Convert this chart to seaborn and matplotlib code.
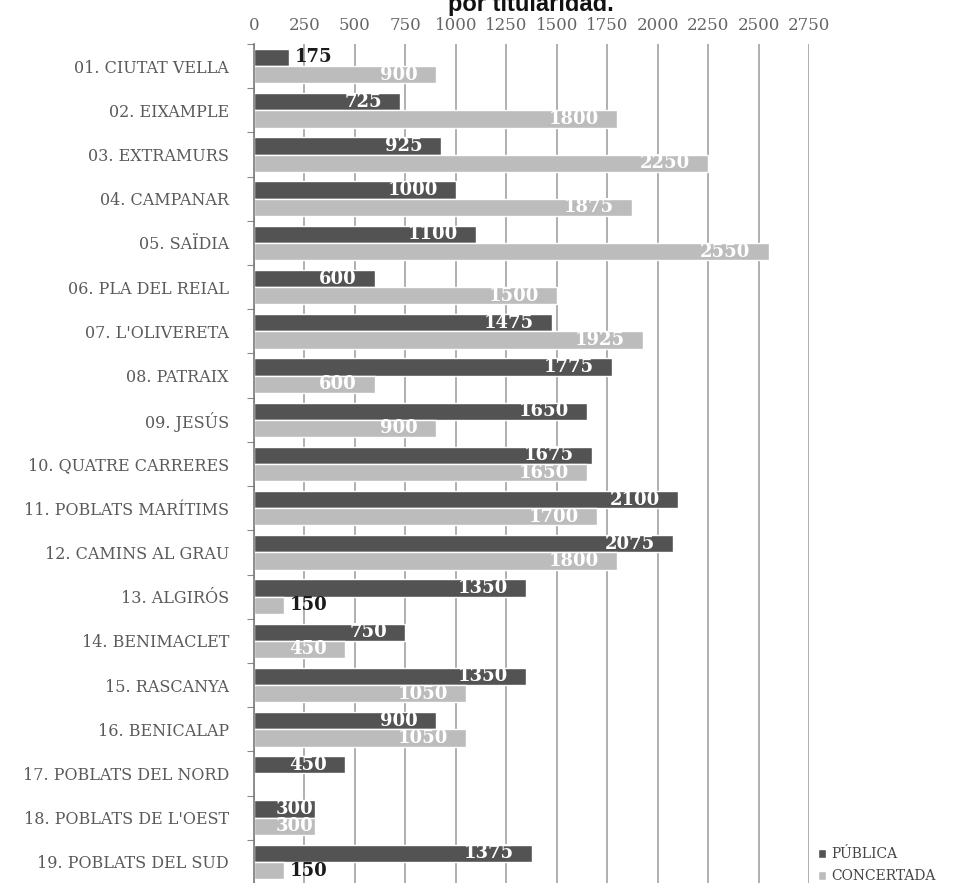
import matplotlib
matplotlib.use("Agg")
import matplotlib.pyplot as plt
from matplotlib.ticker import FixedLocator
from matplotlib.patches import Patch
import seaborn as sns
import pandas as pd

# Districts of València and number of school places by ownership
distritos = [
    "01. CIUTAT VELLA", "02. EIXAMPLE", "03. EXTRAMURS", "04. CAMPANAR",
    "05. SAÏDIA", "06. PLA DEL REIAL", "07. L'OLIVERETA", "08. PATRAIX",
    "09. JESÚS", "10. QUATRE CARRERES", "11. POBLATS MARÍTIMS",
    "12. CAMINS AL GRAU", "13. ALGIRÓS", "14. BENIMACLET", "15. RASCANYA",
    "16. BENICALAP", "17. POBLATS DEL NORD", "18. POBLATS DE L'OEST",
    "19. POBLATS DEL SUD",
]
publica = [175, 725, 925, 1000, 1100, 600, 1475, 1775, 1650, 1675,
           2100, 2075, 1350, 750, 1350, 900, 450, 300, 1375]
concertada = [900, 1800, 2250, 1875, 2550, 1500, 1925, 600, 900, 1650,
              1700, 1800, 150, 450, 1050, 1050, 0, 300, 150]
series = ["PÚBLICA", "CONCERTADA"]
x_ticks = [0, 250, 500, 750, 1000, 1250, 1500, 1750, 2000, 2250, 2500, 2750]

df = pd.DataFrame({
    "distrito": distritos * 2,
    "plazas": publica + concertada,
    "titularidad": [series[0]] * len(distritos) + [series[1]] * len(distritos),
})

sns.set_theme(style="white")
plt.rcParams["font.family"] = ["DejaVu Serif"]

fig = plt.figure(figsize=(9.58, 8.83), dpi=100)
ax = fig.add_axes([254 / 958, -1 / 883, (809 - 254) / 958, (884 - 44) / 883])

colores = ["#535353", "#bcbcbc"]
sns.barplot(data=df, y="distrito", x="plazas", hue="titularidad",
            order=distritos, hue_order=series,
            palette=colores, width=0.78, gap=0,
            saturation=1, orient="h", ax=ax, legend=False)

ax.set_xlim(0, 2750)
ax.set_xlabel("")
ax.set_ylabel("")
ax.xaxis.tick_top()
ax.xaxis.set_major_locator(FixedLocator(x_ticks))
ax.set_xticklabels([str(t) for t in x_ticks])
ax.tick_params(axis="x", length=0, pad=7, labelsize=12, labelcolor="#666666")
ax.tick_params(axis="y", which="major", length=0, pad=18,
               labelsize=11.5, labelcolor="#5a5a5a")
ax.yaxis.set_minor_locator(FixedLocator([i - 0.5 for i in range(len(distritos) + 1)]))
ax.tick_params(axis="y", which="minor", left=True, length=5, width=0.8, color="#8a8a8a")

ax.grid(axis="x", color="#9a9a9a", linewidth=1.1)
ax.grid(axis="y", visible=False)
ax.set_axisbelow(True)
for side in ["top", "right", "bottom"]:
    ax.spines[side].set_visible(False)
ax.spines["left"].set_color("#7a7a7a")
ax.spines["left"].set_linewidth(1.2)

# Value labels: inside the bar end, or just outside for very short bars
for container, vals in zip(ax.containers, [publica, concertada]):
    for bar, v in zip(container, vals):
        if v == 0:
            continue
        yc = bar.get_y() + bar.get_height() / 2
        if v < 200:
            ax.annotate(str(v), (v, yc), xytext=(4, 0), textcoords="offset points",
                        ha="left", va="center", fontsize=13, fontweight="bold",
                        color="#1a1a1a")
        else:
            ax.annotate(str(v), (v, yc), xytext=(-13 if v > 400 else -1, 0),
                        textcoords="offset points", ha="right", va="center",
                        fontsize=13, fontweight="bold", color="white")

fig.text(531 / 958, 1 - 11 / 883, "por titularidad.", ha="center", va="baseline",
         fontsize=17, fontweight="bold", family="Liberation Sans", color="#111111")

# Legend in the lower right corner
handles = [Patch(facecolor=c) for c in colores]
fig.legend(handles, series, loc="lower left", bbox_to_anchor=(812 / 958, -6 / 883),
           frameon=False, handlelength=0.6, handleheight=0.6, handletextpad=0.4,
           labelspacing=0.6, fontsize=10, labelcolor="#444444", borderaxespad=0)

fig.savefig("out.png", dpi=100)
